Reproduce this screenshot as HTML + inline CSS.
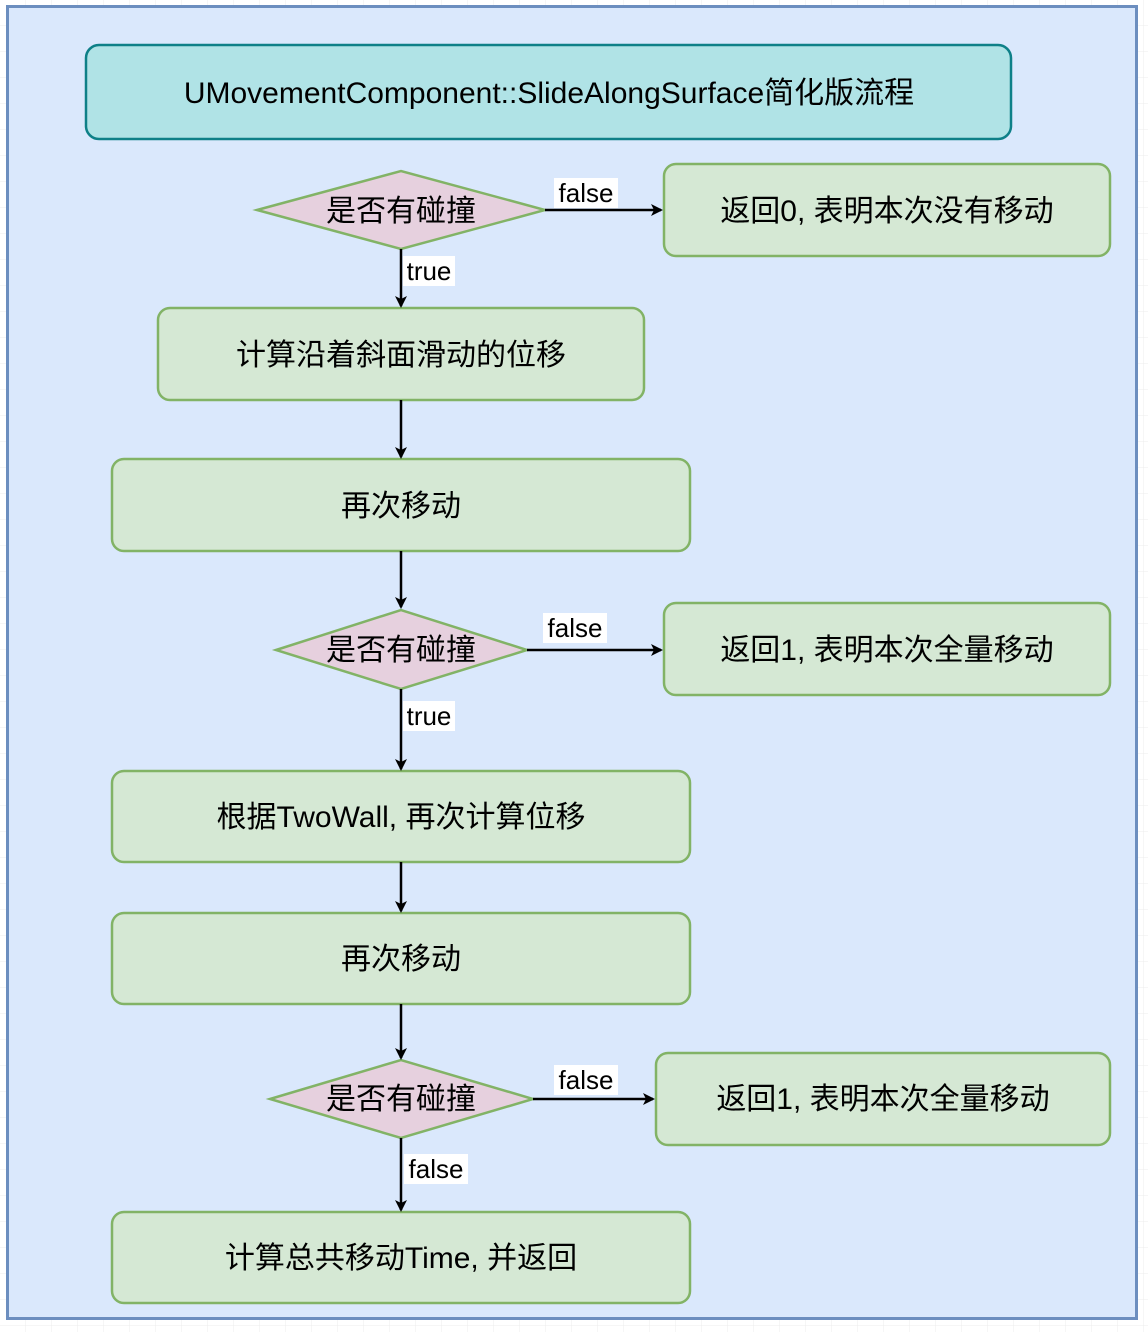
<!DOCTYPE html>
<html><head><meta charset="utf-8"><style>
html,body{margin:0;padding:0;background:#fff;}
svg{display:block;}
text{font-family:"Liberation Sans","Noto Sans CJK SC",sans-serif;fill:#000;}
</style></head><body>
<svg width="1148" height="1332" viewBox="0 0 1148 1332" xmlns="http://www.w3.org/2000/svg">
<defs>
<pattern id="g" width="26" height="26" patternUnits="userSpaceOnUse" x="0" y="0">
<path d="M26 0V26M0 26H26" stroke="#ececec" stroke-width="1" fill="none"/>
</pattern>
<marker id="a" markerWidth="12" markerHeight="12" refX="10" refY="6" orient="auto" markerUnits="userSpaceOnUse">
<path d="M0,0 L12,6 L0,12 L3,6 Z" fill="#000"/>
</marker>
</defs>
<rect width="1148" height="1332" fill="url(#g)"/>
<rect x="7.5" y="6.5" width="1129" height="1312" fill="#dae8fc" stroke="#6c8ebf" stroke-width="3"/>

<rect x="86" y="45" width="925" height="94" rx="13" fill="#b0e3e6" stroke="#0e8088" stroke-width="2.5"/>
<text x="549" y="103" font-size="30" text-anchor="middle">UMovementComponent::SlideAlongSurface简化版流程</text>

<g stroke="#82b366" stroke-width="2.5">
<polygon points="257,210 401,171 545,210 401,249" fill="#e6d0de"/>
<polygon points="276,650 401,610 527,650 401,689" fill="#e6d0de"/>
<polygon points="270,1099 401,1060 533,1099 401,1138" fill="#e6d0de"/>
<g fill="#d5e8d4">
<rect x="664" y="164" width="446" height="92" rx="12"/>
<rect x="158" y="308" width="486" height="92" rx="12"/>
<rect x="112" y="459" width="578" height="92" rx="12"/>
<rect x="664" y="603" width="446" height="92" rx="12"/>
<rect x="112" y="771" width="578" height="91" rx="12"/>
<rect x="112" y="913" width="578" height="91" rx="12"/>
<rect x="656" y="1053" width="454" height="92" rx="12"/>
<rect x="112" y="1212" width="578" height="91" rx="12"/>
</g>
</g>

<g stroke="#000" stroke-width="2.5" fill="none" marker-end="url(#a)">
<path d="M545 210H661"/>
<path d="M401 249V306"/>
<path d="M401 400V457"/>
<path d="M401 551V607"/>
<path d="M527 650H661"/>
<path d="M401 689V769"/>
<path d="M401 862V911"/>
<path d="M401 1004V1058"/>
<path d="M533 1099H653"/>
<path d="M401 1138V1210"/>
</g>

<g fill="#fff">
<rect x="554" y="178" width="64" height="30"/>
<rect x="403" y="256" width="52" height="30"/>
<rect x="543" y="613" width="64" height="30"/>
<rect x="403" y="701" width="52" height="30"/>
<rect x="554" y="1065" width="64" height="30"/>
<rect x="404" y="1154" width="64" height="30"/>
</g>
<g font-size="26" text-anchor="middle">
<text x="586" y="202">false</text>
<text x="429" y="280">true</text>
<text x="575" y="637">false</text>
<text x="429" y="725">true</text>
<text x="586" y="1089">false</text>
<text x="436" y="1178">false</text>
</g>

<g font-size="30" text-anchor="middle">
<text x="401" y="221">是否有碰撞</text>
<text x="887" y="221">返回0, 表明本次没有移动</text>
<text x="401" y="365">计算沿着斜面滑动的位移</text>
<text x="401" y="516">再次移动</text>
<text x="401" y="660">是否有碰撞</text>
<text x="887" y="660">返回1, 表明本次全量移动</text>
<text x="401" y="827">根据TwoWall, 再次计算位移</text>
<text x="401" y="969">再次移动</text>
<text x="401" y="1109">是否有碰撞</text>
<text x="883" y="1109">返回1, 表明本次全量移动</text>
<text x="401" y="1268">计算总共移动Time, 并返回</text>
</g>
</svg>
</body></html>
